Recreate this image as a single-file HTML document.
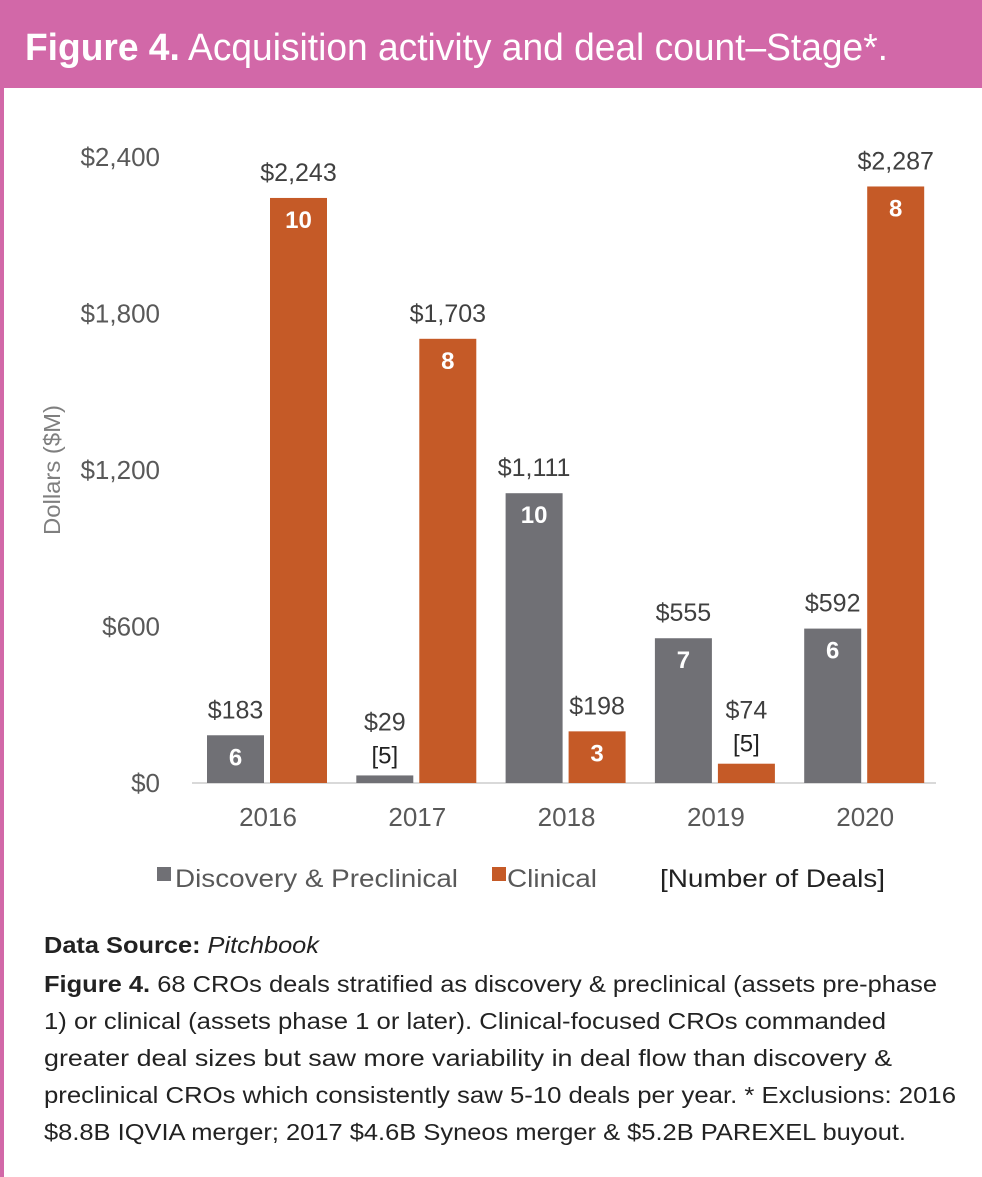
<!DOCTYPE html>
<html><head><meta charset="utf-8"><style>
html,body{margin:0;padding:0;background:#fff}
svg{display:block;font-family:"Liberation Sans",sans-serif}
</style></head><body>
<svg id="chart" width="982" height="1177" viewBox="0 0 982 1177" xmlns="http://www.w3.org/2000/svg">
<rect x="0" y="0" width="982" height="88" fill="#d268a8"/>
<rect x="0" y="88" width="4" height="1089" fill="#d268a8"/>
<text x="25" y="60" font-size="38" fill="#fff" textLength="863" lengthAdjust="spacingAndGlyphs"><tspan font-weight="bold">Figure 4.</tspan> Acquisition activity and deal count–Stage*.</text>
<line x1="192" y1="783" x2="936" y2="783" stroke="#d9d9d9" stroke-width="2"/>
<text transform="translate(60,470) rotate(-90)" text-anchor="middle" font-size="23" fill="#7f7f7f" textLength="130" lengthAdjust="spacingAndGlyphs">Dollars ($M)</text>
<g id="ticks"></g><g id="bars"></g>
<g>
<rect x="157" y="867" width="14" height="14" fill="#707075"/>
<text x="175" y="887" font-size="25" fill="#595959" textLength="283" lengthAdjust="spacingAndGlyphs">Discovery &amp; Preclinical</text>
<rect x="492" y="867" width="14" height="14" fill="#c55a27"/>
<text x="507" y="887" font-size="25" fill="#595959" textLength="90" lengthAdjust="spacingAndGlyphs">Clinical</text>
<text x="660" y="887" font-size="25" fill="#222" textLength="225" lengthAdjust="spacingAndGlyphs">[Number of Deals]</text>
</g>
<g font-size="23" fill="#222">
<text x="44" y="953" textLength="275" lengthAdjust="spacingAndGlyphs"><tspan font-weight="bold">Data Source:</tspan> <tspan font-style="italic">Pitchbook</tspan></text>
<text x="44" y="992" textLength="893" lengthAdjust="spacingAndGlyphs"><tspan font-weight="bold">Figure 4.</tspan> 68 CROs deals stratified as discovery &amp; preclinical (assets pre-phase</text>
<text x="44" y="1029" textLength="842" lengthAdjust="spacingAndGlyphs">1) or clinical (assets phase 1 or later). Clinical-focused CROs commanded</text>
<text x="44" y="1066" textLength="848" lengthAdjust="spacingAndGlyphs">greater deal sizes but saw more variability in deal flow than discovery &amp;</text>
<text x="44" y="1103" textLength="912" lengthAdjust="spacingAndGlyphs">preclinical CROs which consistently saw 5-10 deals per year. * Exclusions: 2016</text>
<text x="44" y="1140" textLength="862" lengthAdjust="spacingAndGlyphs">$8.8B IQVIA merger; 2017 $4.6B Syneos merger &amp; $5.2B PAREXEL buyout.</text>
</g>
</svg>
<script>
const years = ["2016","2017","2018","2019","2020"];
const discovery = [183, 29, 1111, 555, 592];
const clinical = [2243, 1703, 198, 74, 2287];
const discoveryDeals = [6, 5, 10, 7, 6];
const clinicalDeals = [10, 8, 3, 5, 8];
const yTicks = [0, 600, 1200, 1800, 2400];

const NS = "http://www.w3.org/2000/svg";
const y = v => 783 - v * (626 / 2400);
const gx = i => 207 + i * 149.3;
function mk(tag, attrs, parent, txt) {
  const e = document.createElementNS(NS, tag);
  for (const k in attrs) e.setAttribute(k, attrs[k]);
  if (txt !== undefined) e.textContent = txt;
  parent.appendChild(e); return e;
}
const tg = document.getElementById('ticks');
yTicks.forEach(t => {
  const el = mk('text', {x: 160, y: y(t) + 9, 'text-anchor': 'end', 'font-size': 26, fill: '#595959'}, tg, '$' + t.toLocaleString('en-US'));
  
  
});
const bg = document.getElementById('bars');
function bar(x0, v, deals, color, name) {
  const top = y(v), h = 783 - top;
  const r = mk('rect', {x: x0, y: top, width: 57, height: h, fill: color}, bg);
  
  
  const mid = x0 + 28.5;
  const small = h < 40;
  const vl = mk('text', {x: mid, y: small ? top - 45 : top - 17, 'text-anchor': 'middle', 'font-size': 25, fill: '#404040'}, bg, '$' + v.toLocaleString('en-US'));
  
  
  const dl = small
    ? mk('text', {x: mid, y: top - 12, 'text-anchor': 'middle', 'font-size': 24, fill: '#222'}, bg, '[' + deals + ']')
    : mk('text', {x: mid, y: top + 30, 'text-anchor': 'middle', 'font-size': 24, 'font-weight': 'bold', fill: '#fff'}, bg, String(deals));
  
  
}
years.forEach((yr, i) => {
  bar(gx(i), discovery[i], discoveryDeals[i], '#707075', 'bar-discovery-' + yr);
  bar(gx(i) + 63, clinical[i], clinicalDeals[i], '#c55a27', 'bar-clinical-' + yr);
  const xl = mk('text', {x: gx(i) + 61, y: 826, 'text-anchor': 'middle', 'font-size': 26, fill: '#595959'}, bg, yr);
  
  
});
</script>
</body></html>
